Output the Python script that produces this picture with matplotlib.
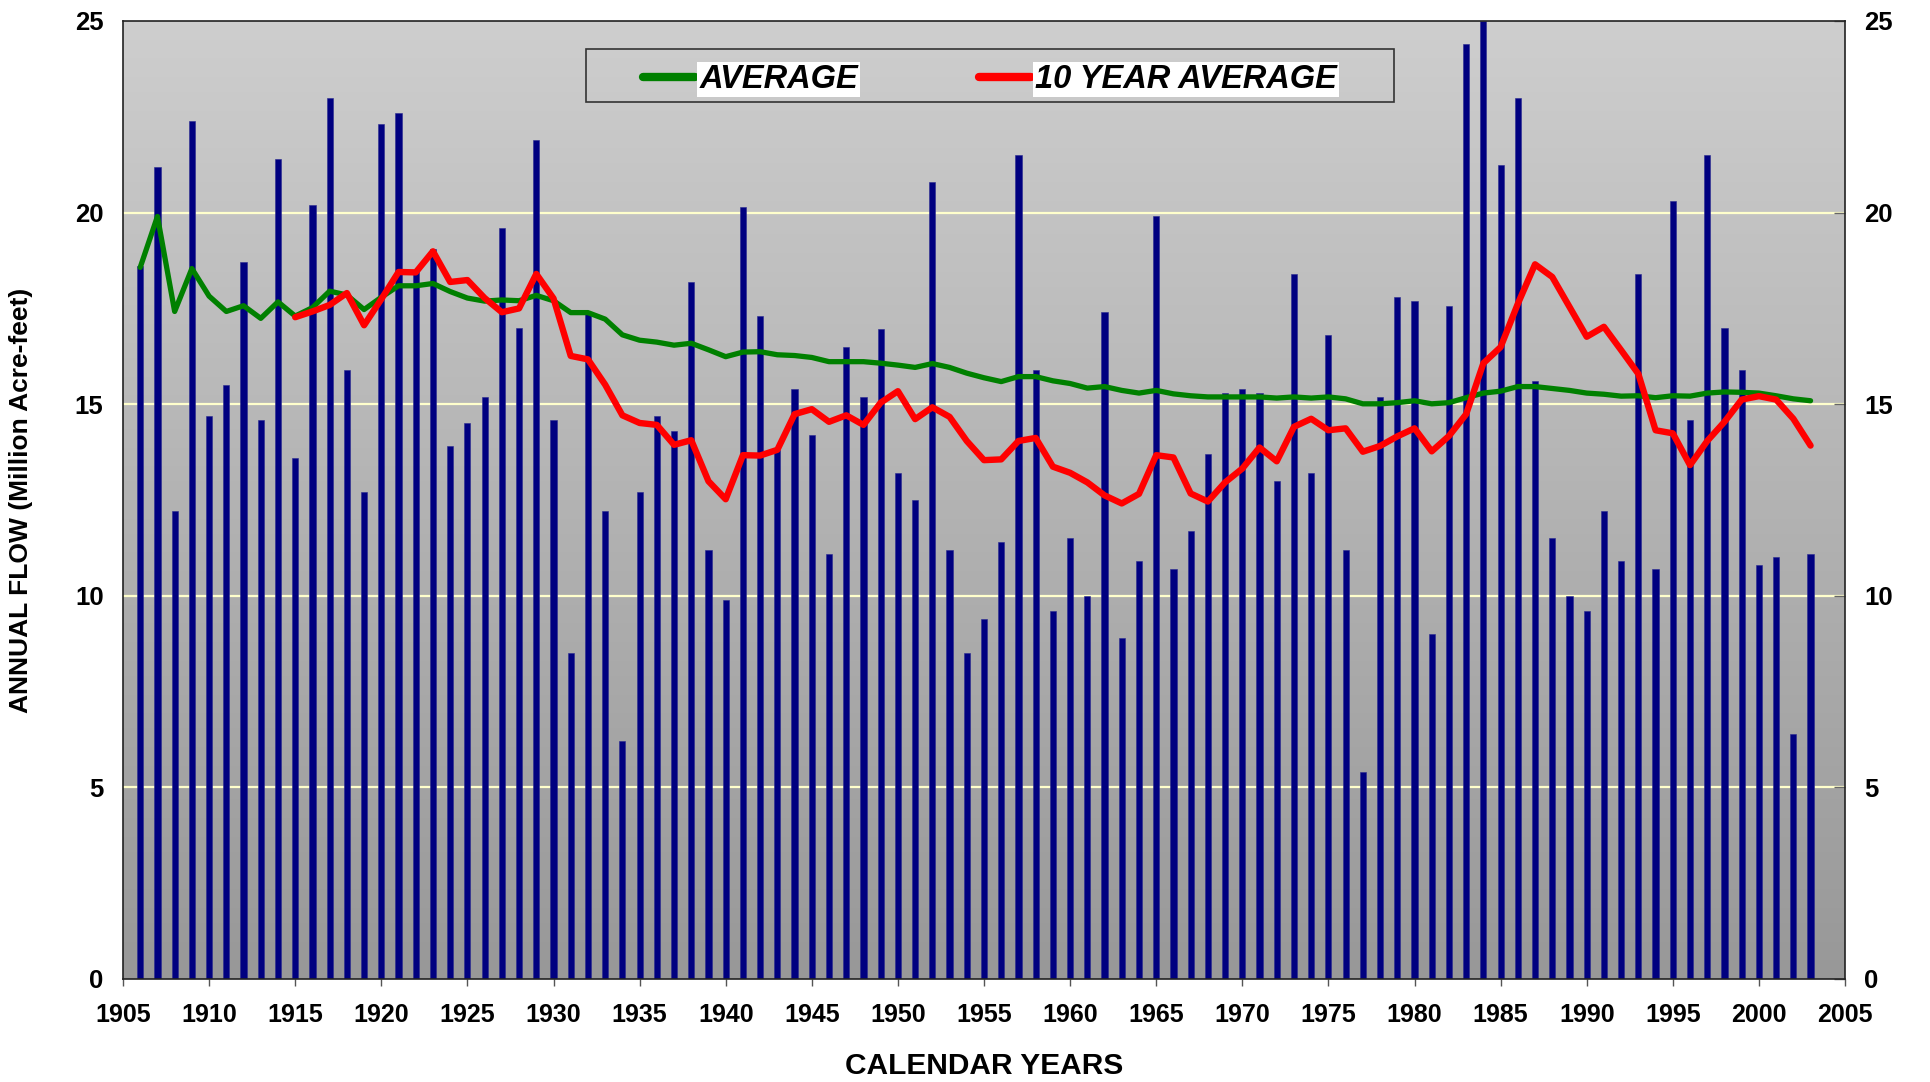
import numpy as np
import matplotlib
matplotlib.use("Agg")
import matplotlib.pyplot as plt
from matplotlib.patches import Rectangle

plt.rcParams['font.family'] = ['Liberation Sans', 'DejaVu Sans']

years = list(range(1906, 2004))

annual_flow = [
    18.6, 21.2, 12.2, 22.4, 14.7, 15.5, 18.7, 14.6, 21.4, 13.6,   # 1906-1915
    20.2, 23.0, 15.9, 12.7, 22.3, 22.6, 18.5, 19.05, 13.9, 14.5,  # 1916-1925
    15.2, 19.6, 17.0, 21.9, 14.6, 8.5, 17.4, 12.2, 6.2, 12.7,     # 1926-1935
    14.7, 14.3, 18.2, 11.2, 9.9, 20.15, 17.3, 13.8, 15.4, 14.2,   # 1936-1945
    11.1, 16.5, 15.2, 16.95, 13.2, 12.5, 20.8, 11.2, 8.5, 9.4,    # 1946-1955
    11.4, 21.5, 15.9, 9.6, 11.5, 10.0, 17.4, 8.9, 10.9, 19.9,     # 1956-1965
    10.7, 11.7, 13.7, 15.3, 15.4, 15.3, 13.0, 18.4, 13.2, 16.8,   # 1966-1975
    11.2, 5.4, 15.2, 17.8, 17.7, 9.0, 17.55, 24.4, 25.0, 21.25,   # 1976-1985
    23.0, 15.6, 11.5, 10.0, 9.6, 12.2, 10.9, 18.4, 10.7, 20.3,    # 1986-1995
    14.6, 21.5, 17.0, 15.9, 10.8, 11.0, 6.4, 11.1,                # 1996-2003
]

average = [
    18.57, 19.9, 17.42, 18.54, 17.82, 17.42, 17.57, 17.24, 17.67, 17.3,
    17.52, 17.95, 17.85, 17.47, 17.79, 18.09, 18.09, 18.15, 17.94, 17.77,
    17.69, 17.72, 17.7, 17.84, 17.7, 17.39, 17.39, 17.22, 16.81, 16.67,
    16.62, 16.54, 16.59, 16.42, 16.24, 16.36, 16.37, 16.29, 16.27, 16.22,
    16.11, 16.11, 16.11, 16.07, 16.02, 15.96, 16.06, 15.96, 15.81, 15.69,
    15.59, 15.72, 15.72, 15.61, 15.54, 15.42, 15.46, 15.36, 15.29, 15.36,
    15.27, 15.22, 15.19, 15.19, 15.19, 15.19, 15.16, 15.19, 15.16, 15.19,
    15.14, 15.01, 15.01, 15.04, 15.09, 15.01, 15.04, 15.17, 15.29, 15.34,
    15.46, 15.46, 15.41, 15.36, 15.29, 15.26, 15.21, 15.22, 15.17, 15.22,
    15.21, 15.29, 15.32, 15.31, 15.29, 15.22, 15.14, 15.09,
]

ten_year_years = list(range(1915, 2004))
ten_year_avg = [
    17.27, 17.42, 17.59, 17.9, 17.06, 17.74, 18.45, 18.44, 18.99, 18.19,
    18.24, 17.77, 17.4, 17.5, 18.4, 17.76, 16.26, 16.17, 15.51, 14.71,
    14.51, 14.46, 13.94, 14.06, 12.99, 12.52, 13.67, 13.66, 13.81, 14.74,
    14.87, 14.54, 14.71, 14.46, 15.04, 15.34, 14.61, 14.92, 14.67, 14.04,
    13.54, 13.56, 14.04, 14.12, 13.37, 13.21, 12.96, 12.62, 12.41, 12.66,
    13.67, 13.61, 12.67, 12.46, 12.96, 13.32, 13.87, 13.51, 14.41, 14.62,
    14.32, 14.37, 13.76, 13.91, 14.16, 14.37, 13.77, 14.17, 14.74, 16.07,
    16.49, 17.62, 18.65, 18.32, 17.54, 16.76, 17.02, 16.41, 15.79, 14.32,
    14.24, 13.41, 14.04, 14.54, 15.12, 15.21, 15.12, 14.62, 13.92,
]

x_ticks = list(range(1905, 2006, 5))
y_ticks = [0, 5, 10, 15, 20, 25]

W, H = 1931, 1082
fig = plt.figure(figsize=(W / 100, H / 100), dpi=100)
L, R, T, B = 123, 1845, 21, 979
ax = fig.add_axes([L / W, 1 - B / H, (R - L) / W, (B - T) / H])

ax.set_xlim(1905, 2005)
ax.set_ylim(0, 25)

# gradient background
grad = np.linspace(0, 1, 256).reshape(-1, 1)
cmap = matplotlib.colors.LinearSegmentedColormap.from_list('bg', ['#cecece', '#989898'])
ax.imshow(grad, aspect='auto', cmap=cmap, extent=[0, 1, 0, 1],
          transform=ax.transAxes, zorder=0)

for yv in y_ticks[1:-1]:
    ax.axhline(yv, color='#ffffcc', lw=1.6, zorder=1)

ax.bar(years, annual_flow, width=0.36, color='#000080', edgecolor='#2a2a90',
       linewidth=0.4, zorder=2, clip_on=True)
l1, = ax.plot(years, average, color='#008000', lw=3.8, zorder=3,
              solid_capstyle='round', solid_joinstyle='round', label='AVERAGE')
l2, = ax.plot(ten_year_years, ten_year_avg, color='#ff0000', lw=4.6, zorder=4,
              solid_capstyle='round', solid_joinstyle='round', label='10 YEAR AVERAGE')

ax.set_xticks(x_ticks)
ax.set_xticklabels([str(v) for v in x_ticks], fontsize=18, fontweight='bold')
ax.set_yticks(y_ticks)
ax.set_yticklabels([str(v) for v in y_ticks], fontsize=18.5, fontweight='bold')
ax.tick_params(axis='x', direction='out', length=5, width=1, color='#555555', pad=12)
ax.tick_params(axis='y', left=False, right=True, labelleft=True, labelright=True,
               direction='in', length=8, width=1, color='#666666', pad=14)

for s in ax.spines.values():
    s.set_color('#222222')
    s.set_linewidth(1.2)

ax.set_xlabel('CALENDAR YEARS', fontsize=21.5, fontweight='bold', labelpad=18)
ax.set_ylabel('ANNUAL FLOW (Million Acre-feet)', fontsize=19, fontweight='bold')
ax.yaxis.set_label_coords(-0.052, 0.5)

# legend
bx0, by0, bw, bh = 0.269, 0.915, 0.469, 0.056
ax.add_patch(Rectangle((bx0, by0), bw, bh, transform=ax.transAxes, fill=False,
                       edgecolor='#333333', lw=1.2, zorder=6))
leg = ax.legend(handles=[l1, l2], loc='center', bbox_to_anchor=(bx0 + bw / 2, by0 + bh / 2 - 0.004),
                ncol=2, frameon=False, prop={'size': 23.5, 'weight': 'bold', 'style': 'italic'},
                handlelength=1.6, handletextpad=0.12, columnspacing=3.7, borderpad=0.1)
for t in leg.get_texts():
    t.set_bbox(dict(facecolor='white', edgecolor='none', pad=1.5))
for h in leg.get_lines():
    h.set_linewidth(6)
    h.set_solid_capstyle('round')
leg.set_zorder(7)

fig.savefig('out.png', dpi=100, facecolor='white')
